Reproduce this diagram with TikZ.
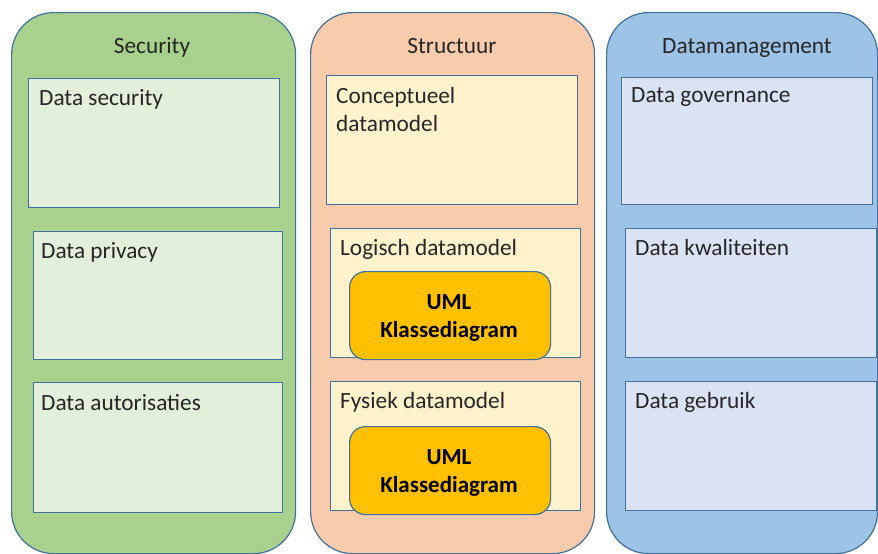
\documentclass[tikz,border=0pt]{standalone}
\usepackage{fontspec}
\setmainfont{Carlito}
\definecolor{grnC}{HTML}{A9D18E}
\definecolor{grnI}{HTML}{E2EFDA}
\definecolor{orgC}{HTML}{F8CBAD}
\definecolor{orgI}{HTML}{FFF2CC}
\definecolor{bluC}{HTML}{9DC3E6}
\definecolor{bluI}{HTML}{DAE3F3}
\definecolor{umlF}{HTML}{FFC000}
\definecolor{edge}{HTML}{41719C}
\definecolor{txtc}{HTML}{262626}
\begin{document}
\begin{tikzpicture}[x=1pt,y=-1pt,
  container/.style={draw=edge,line width=1.2pt,rounded corners=42pt,anchor=north west,inner sep=0pt},
  inbox/.style={draw=edge,line width=1.2pt,anchor=north west,inner sep=0pt},
  umlbox/.style={draw=edge,line width=1.2pt,fill=umlF,rounded corners=16pt,anchor=north west,inner sep=0pt},
  txt/.style={anchor=base west,inner sep=0pt,text=txtc,font=\fontsize{23.3}{28}\selectfont},
  ttl/.style={anchor=base,inner sep=0pt,text=txtc,font=\fontsize{23.3}{28}\selectfont},
  umltxt/.style={anchor=base,inner sep=0pt,text=black,font=\fontsize{23}{28}\selectfont\bfseries}]
\useasboundingbox (0,0) rectangle (878,554);
\clip (0,0) rectangle (878,554);
% containers
\node[container,fill=grnC,minimum width=284pt,minimum height=541pt] (secC) at (11,12) {};
\node[container,fill=orgC,minimum width=284pt,minimum height=541pt] (strC) at (310,12) {};
\node[container,fill=bluC,minimum width=271pt,minimum height=541pt] (dmC) at (606,12) {};
\node[ttl] (secT) at (152,53) {Security};
\node[ttl] (strT) at (452,53) {Structuur};
\node[ttl] (dmT) at (747,53) {Datamanagement};
% security boxes
\node[inbox,fill=grnI,minimum width=251pt,minimum height=129pt] (s1) at (28,78) {};
\node[inbox,fill=grnI,minimum width=249pt,minimum height=128pt] (s2) at (33,231) {};
\node[inbox,fill=grnI,minimum width=249pt,minimum height=130pt] (s3) at (33,382) {};
\node[txt] (s1t) at (39,105) {Data security};
\node[txt] (s2t) at (41,258) {Data privacy};
\node[txt] (s3t) at (41,410) {Data autorisaties};
% structuur boxes
\node[inbox,fill=orgI,minimum width=251pt,minimum height=129pt] (m1) at (326,75) {};
\node[inbox,fill=orgI,minimum width=250pt,minimum height=129pt] (m2) at (330,228) {};
\node[inbox,fill=orgI,minimum width=250pt,minimum height=129pt] (m3) at (330,381) {};
\node[txt] (m1t) at (336,103) {Conceptueel};
\node[txt] (m1u) at (336,131) {datamodel};
\node[txt] (m2t) at (340,255) {Logisch datamodel};
\node[txt] (m3t) at (340,408) {Fysiek datamodel};
\node[umlbox,minimum width=201pt,minimum height=88pt] (u1) at (349,271) {};
\node[umlbox,minimum width=201pt,minimum height=88pt] (u2) at (349,426) {};
\node[umltxt] (u1a) at (449,309) {UML};
\node[umltxt] (u1b) at (449,337) {Klassediagram};
\node[umltxt] (u2a) at (449,464) {UML};
\node[umltxt] (u2b) at (449,492) {Klassediagram};
% datamanagement boxes
\node[inbox,fill=bluI,minimum width=251pt,minimum height=127pt] (d1) at (621,77) {};
\node[inbox,fill=bluI,minimum width=251pt,minimum height=129pt] (d2) at (625,228) {};
\node[inbox,fill=bluI,minimum width=251pt,minimum height=129pt] (d3) at (625,381) {};
\node[txt] (d1t) at (631,102) {Data governance};
\node[txt] (d2t) at (635,255) {Data kwaliteiten};
\node[txt] (d3t) at (635,408) {Data gebruik};
\end{tikzpicture}
\end{document}
